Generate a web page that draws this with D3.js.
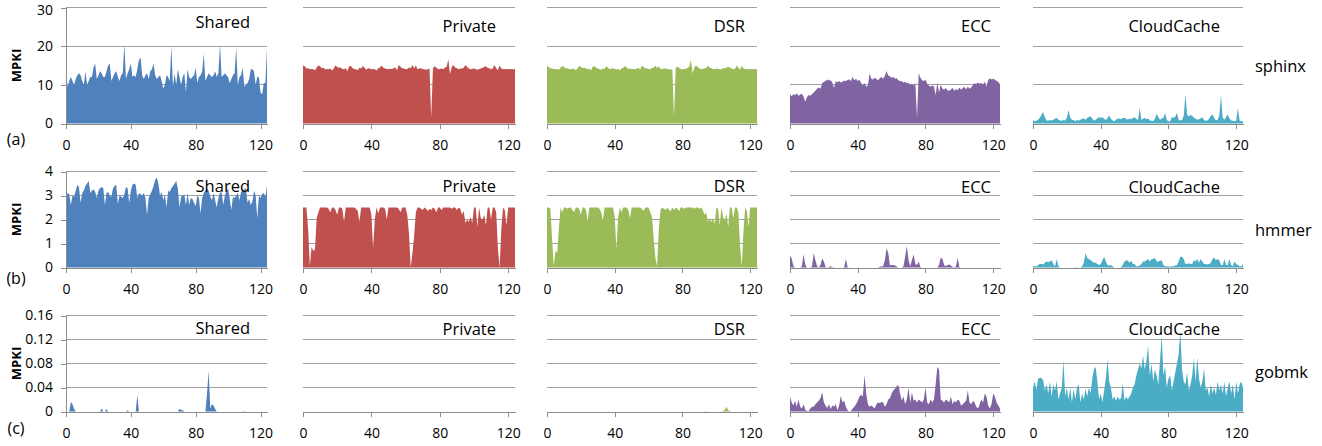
<!DOCTYPE html>
<html>
<head>
<meta charset="utf-8">
<script src="https://cdn.jsdelivr.net/npm/d3@7"></script>
<style>
  body { margin: 0; background: #fff; }
  svg { display: block; }
  text { font-family: "Open Sans", "Noto Sans", sans-serif; }
</style>
</head>
<body>
<svg id="chart" width="1322" height="446"></svg>
<script>
// Cache schemes (columns) and benchmarks (rows)
const schemes = ["Shared", "Private", "DSR", "ECC", "CloudCache"];
const benchmarks = ["sphinx", "hmmer", "gobmk"];
const rowTags = ["(a)", "(b)", "(c)"];
const xTicks = [0, 40, 80, 120];
const sphinxTicks = [0, 10, 20, 30];
const hmmerTicks = [0, 1, 2, 3, 4];
const gobmkTicks = [0, 0.04, 0.08, 0.12, 0.16];

// MPKI per interval (index = interval 0..124)
const sphinxShared = [
  14.5, 9.5, 11, 12, 11, 10, 11.5, 12.5, 13, 12.5,
  11, 10, 13.5, 10, 11, 12, 12, 14.5, 15.5, 11.5,
  12.5, 13.5, 13, 12, 12, 13.5, 15, 15.5, 11, 12,
  13, 13.5, 12, 11, 12.5, 13, 20.5, 11.5, 13, 14,
  15.5, 12, 12.5, 12, 14, 16.5, 17, 12.5, 11.5, 12.5,
  13, 11.5, 13.5, 14, 15.5, 12.5, 11.5, 12, 12.5, 11,
  9, 10, 12.5, 12, 11, 20, 9.5, 13, 10, 14,
  12, 10, 12, 13, 8, 14, 12, 11.5, 12, 12.5,
  14.5, 10.5, 12, 12.5, 13.5, 18, 11, 12, 13, 12.5,
  12, 12.5, 13.5, 12, 13, 20.5, 12, 12.5, 13, 12.5,
  12, 10.5, 11.5, 12.5, 13, 19.5, 10, 12, 12.5, 14.5,
  9.5, 10, 10.5, 11.5, 14, 14, 13.5, 10, 12, 12,
  8, 7.5, 10.5, 10.5, 19.5
];
const sphinxPrivate = [
  15, 14.8, 14.2, 14.3, 14.0, 14.1, 14.0, 13.8, 14.5, 15.0,
  14.8, 14.3, 14.4, 14.0, 14.1, 14.0, 14.2, 13.7, 14.2, 15.0,
  14.6, 14.4, 14.5, 14.1, 14.0, 14.3, 13.6, 14.8, 14.9, 14.3,
  14.1, 14.0, 13.8, 14.4, 14.2, 14.9, 14.4, 13.9, 14.3, 14.2,
  14.0, 14.1, 14.0, 13.7, 14.3, 14.5, 15.0, 14.4, 14.2, 14.1,
  14.0, 14.2, 14.0, 14.3, 14.5, 13.8, 15.1, 14.7, 14.3, 14.2,
  14.0, 14.1, 14.5, 14.3, 15.1, 14.2, 15.0, 14.0, 14.2, 14.3,
  14.1, 14.0, 13.9, 14.0, 14.2, 1.5, 14.3, 14.8, 14.5, 14.0,
  14.1, 14.2, 14.0, 14.5, 14.6, 16.6, 12.8, 14.6, 15.1, 14.5,
  14.3, 14.0, 14.2, 14.2, 14.4, 15.1, 14.6, 14.2, 14.0, 14.1,
  14.3, 14.0, 13.9, 14.1, 14.2, 14.4, 14.6, 14.8, 14.4, 14.3,
  14.0, 14.2, 15.1, 14.3, 13.8, 15.0, 14.2, 14.0, 14.1, 14.0,
  14.1, 14.0, 14.1, 14.0, 14.1
];
const sphinxDSR = [
  14.9, 14.6, 14.3, 14.2, 14.1, 14.0, 14.1, 13.9, 14.4, 14.9,
  14.7, 14.2, 14.3, 14.1, 14.0, 14.1, 14.2, 13.8, 14.3, 14.9,
  14.7, 14.3, 14.4, 14.2, 14.0, 14.2, 13.7, 14.7, 14.8, 14.4,
  14.2, 14.0, 13.9, 14.3, 14.1, 14.8, 14.5, 14.0, 14.2, 14.3,
  14.1, 14.0, 14.1, 13.8, 14.2, 14.4, 14.9, 14.5, 14.1, 14.2,
  14.1, 14.1, 14.0, 14.2, 14.4, 13.9, 15.0, 14.6, 14.2, 14.3,
  14.1, 14.0, 14.4, 14.4, 15.0, 14.3, 14.9, 14.1, 14.1, 14.2,
  14.2, 14.1, 14.0, 13.9, 14.1, 1.7, 14.4, 14.7, 14.4, 14.1,
  14.0, 14.1, 14.1, 14.4, 14.7, 16.5, 12.9, 14.5, 15.0, 14.6,
  14.2, 14.1, 14.1, 14.3, 14.3, 15.0, 14.5, 14.3, 14.1, 14.0,
  14.2, 14.1, 14.0, 14.0, 14.3, 14.3, 14.5, 14.7, 14.5, 14.2,
  14.1, 14.1, 15.0, 14.4, 13.9, 14.9, 14.3, 14.1, 14.0, 14.1,
  14.0, 14.1, 14.0, 14.1, 14.0
];
const sphinxECC = [
  7.6, 7.0, 7.6, 7.3, 7.8, 7.2, 7.5, 7.7, 7.0, 5.6,
  6.8, 7.4, 7.2, 7.6, 8.0, 8.5, 9.0, 9.3, 9.0, 10.4,
  10.8, 11.0, 11.4, 11.1, 11.2, 10.6, 9.2, 10.9, 10.7, 11.0,
  10.6, 10.8, 11.1, 10.9, 11.3, 11.4, 11.0, 12.1, 11.2, 11.6,
  11.0, 11.3, 10.5, 9.8, 10.4, 9.5, 9.8, 13.0, 11.6, 11.4,
  11.8, 11.5, 11.2, 11.7, 12.0, 11.6, 12.3, 13.6, 12.4, 12.2,
  11.8, 12.0, 11.6, 11.7, 11.2, 11.0, 10.9, 10.6, 10.8, 10.4,
  10.5, 10.0, 10.2, 9.8, 10.4, 1.5, 13.0, 11.8, 11.2, 11.0,
  11.3, 10.3, 9.8, 9.5, 9.8, 9.6, 7.4, 10.6, 8.0, 10.0,
  9.0, 8.8, 9.2, 8.6, 8.5, 8.8, 9.2, 8.5, 8.9, 8.6,
  9.3, 8.7, 9.2, 9.5, 8.8, 9.6, 9.0, 9.3, 10.0, 10.4,
  10.2, 10.6, 10.3, 10.5, 10.1, 10.8, 9.5, 11.2, 11.7, 11.4,
  11.6, 11.3, 11.0, 10.8, 10.0
];
const sphinxCloudCache = [
  1.0, 0.6, 0.7, 1.0, 1.5, 2.2, 3.0, 1.6, 0.8, 0.7,
  0.9, 0.8, 1.0, 1.2, 1.5, 1.0, 0.8, 0.7, 0.9, 0.8,
  1.5, 3.5, 1.5, 1.0, 0.9, 0.6, 1.0, 0.7, 1.0, 1.2,
  1.3, 1.0, 1.4, 1.7, 1.8, 1.3, 0.7, 1.0, 1.3, 1.7,
  1.4, 1.6, 1.2, 0.9, 1.4, 2.1, 1.2, 0.8, 0.6, 1.0,
  1.2, 1.3, 1.1, 1.4, 1.5, 1.2, 1.0, 1.3, 1.1, 1.4,
  1.6, 1.2, 0.9, 4.0, 1.0, 1.2, 1.4, 1.1, 1.3, 0.8,
  0.7, 0.6, 1.2, 2.5, 1.6, 1.0, 1.3, 1.5, 2.7, 0.9,
  0.6, 0.5, 1.7, 1.4, 1.8, 2.7, 1.0, 0.8, 0.9, 2.0,
  7.5, 2.3, 1.8, 2.2, 2.0, 1.5, 1.2, 1.0, 1.1, 1.3,
  1.6, 0.9, 0.7, 0.8, 1.2, 2.0, 2.3, 1.4, 0.8, 1.0,
  2.0, 7.4, 1.5, 1.0, 1.6, 2.3, 1.3, 0.8, 0.7, 0.6,
  0.8, 4.0, 0.8, 0.6, 0.6
];

const hmmerShared = [
  3.0, 3.1, 3.05, 2.6, 3.0, 2.95, 3.2, 3.45, 3.35, 2.7,
  3.1, 3.2, 3.4, 3.5, 3.6, 3.1, 3.2, 3.25, 3.15, 2.9,
  3.2, 3.3, 3.35, 3.3, 2.6, 3.1, 3.15, 3.0, 2.95, 3.3,
  3.4, 3.45, 2.65, 3.0, 2.95, 2.9, 3.05, 3.35, 3.3, 2.7,
  3.2, 3.45, 3.5, 3.45, 2.9, 3.1, 3.05, 3.0, 3.1, 2.9,
  2.2, 2.9, 3.05, 3.2, 3.4, 3.65, 3.75, 3.5, 3.0, 3.15,
  2.8, 3.05, 2.5, 3.2, 3.15, 3.3, 3.4, 3.5, 3.6, 3.3,
  2.5, 2.95, 3.0, 3.05, 2.6, 3.1, 2.6, 2.9, 2.85, 2.7,
  2.55, 3.0, 2.9, 2.25, 2.9, 3.1, 3.2, 3.3, 3.2, 2.95,
  2.8, 3.1, 2.8, 2.5, 2.9, 3.1, 3.15, 2.6, 3.0, 3.2,
  3.3, 2.85, 2.4, 2.95, 2.9, 3.0, 3.1, 2.8, 3.15, 3.2,
  3.25, 3.3, 2.7, 2.85, 2.6, 2.75, 3.2, 3.0, 2.05, 3.0,
  2.9, 3.05, 3.1, 2.95, 3.4
];
const hmmerPrivate = [
  2.5, 2.5, 2.5, 1.6, 0.05, 0.85, 0.7, 0.75, 2.05, 2.3,
  2.5, 2.5, 2.5, 2.5, 2.5, 2.45, 2.3, 2.5, 2.5, 2.4,
  2.2, 2.5, 2.5, 2.45, 1.9, 2.5, 2.5, 2.5, 2.5, 2.5,
  2.5, 2.45, 2.35, 1.9, 2.5, 2.5, 2.5, 2.5, 2.5, 2.5,
  2.2, 0.8, 2.0, 2.5, 2.25, 2.5, 2.5, 2.5, 2.45, 2.0,
  2.5, 2.5, 2.5, 2.5, 2.5, 2.5, 2.45, 2.3, 2.5, 2.5,
  2.5, 2.2, 1.4, 0.0, 0.6, 1.3, 2.3, 2.5, 2.5, 2.45,
  2.4, 2.5, 2.45, 2.35, 2.45, 2.4, 2.5, 2.45, 2.3, 2.5,
  2.5, 2.4, 2.5, 2.5, 2.5, 2.5, 2.5, 2.45, 2.5, 2.5,
  2.4, 2.5, 2.45, 2.2, 2.35, 1.85, 2.0, 1.9, 2.1, 1.85,
  2.5, 2.5, 1.7, 2.5, 2.05, 2.0, 2.2, 1.75, 2.5, 2.5,
  2.0, 2.5, 2.5, 2.3, 0.8, 0.0, 1.6, 2.5, 2.4, 1.75,
  2.5, 2.5, 2.5, 2.5, 2.5
];
const hmmerDSR = [
  2.5, 2.5, 2.45, 1.2, 0.05, 0.7, 0.6, 1.6, 2.5, 2.3,
  2.5, 2.5, 2.45, 2.5, 2.5, 2.4, 2.3, 2.5, 2.5, 2.45,
  2.2, 2.5, 2.5, 2.4, 1.9, 2.5, 2.5, 2.5, 2.5, 2.5,
  2.5, 2.45, 2.3, 1.95, 2.5, 2.5, 2.5, 2.5, 2.5, 2.5,
  2.1, 0.75, 2.1, 2.5, 2.3, 2.5, 2.5, 2.5, 2.4, 2.05,
  2.5, 2.5, 2.5, 2.5, 2.5, 2.5, 2.45, 2.35, 2.5, 2.5,
  2.5, 2.3, 2.1, 1.2, 0.4, 0.05, 1.6, 2.4, 2.5, 2.45,
  2.4, 2.5, 2.4, 2.35, 2.5, 2.4, 2.5, 2.45, 2.35, 2.5,
  2.5, 2.45, 2.5, 2.5, 2.5, 2.5, 2.5, 2.45, 2.5, 2.5,
  2.45, 2.5, 2.4, 2.2, 2.3, 1.9, 2.05, 1.9, 2.05, 1.8,
  2.5, 2.45, 1.75, 2.5, 2.1, 1.95, 2.25, 1.7, 2.5, 2.5,
  2.05, 2.5, 2.5, 2.3, 0.9, 0.05, 1.5, 2.5, 2.35, 1.7,
  2.5, 2.5, 2.5, 2.5, 2.5
];
const hmmerECC = [
  0.5, 0.38, 0.06, 0, 0, 0, 0, 0.05, 0.55, 0.12,
  0, 0, 0, 0.05, 0.6, 0.3, 0.05, 0, 0.1, 0.38,
  0.25, 0.02, 0, 0.02, 0.05, 0.02, 0, 0, 0, 0,
  0, 0, 0.02, 0.35, 0.02, 0, 0, 0, 0, 0,
  0, 0, 0, 0, 0, 0, 0, 0, 0, 0,
  0, 0, 0, 0.03, 0.05, 0.05, 0.3, 0.8, 0.6, 0.08,
  0.1, 0.1, 0.08, 0.04, 0, 0, 0, 0.05, 0.45, 0.9,
  0.3, 0.05, 0.3, 0.55, 0.15, 0.1, 0.25, 0.02, 0, 0,
  0, 0, 0, 0, 0, 0, 0, 0, 0.1, 0.42,
  0.35, 0.1, 0.05, 0.1, 0.12, 0.08, 0.03, 0, 0.05, 0.4,
  0.02, 0, 0, 0, 0, 0, 0, 0, 0, 0,
  0, 0, 0, 0, 0, 0, 0, 0, 0, 0,
  0, 0, 0, 0, 0
];
const hmmerCloudCache = [
  0.05, 0.05, 0.05, 0.1, 0.15, 0.15, 0.12, 0.2, 0.25, 0.22,
  0.25, 0.3, 0.15, 0.05, 0.35, 0.05, 0, 0, 0, 0,
  0, 0, 0, 0, 0, 0.02, 0, 0, 0, 0.05,
  0.2, 0.6, 0.4, 0.35, 0.3, 0.25, 0.2, 0.2, 0.15, 0.1,
  0.15, 0.3, 0.45, 0.25, 0.1, 0.08, 0.1, 0.05, 0, 0,
  0, 0, 0.02, 0.1, 0.25, 0.3, 0.28, 0.2, 0.28, 0.15,
  0.15, 0.05, 0.05, 0.08, 0.15, 0.25, 0.25, 0.3, 0.35, 0.25,
  0.35, 0.35, 0.4, 0.25, 0.25, 0.28, 0.3, 0.1, 0.05, 0.05,
  0.05, 0.03, 0.05, 0.05, 0.08, 0.1, 0.25, 0.45, 0.45, 0.35,
  0.15, 0.15, 0.18, 0.15, 0.15, 0.3, 0.25, 0.35, 0.2, 0.35,
  0.25, 0.15, 0.15, 0.12, 0.15, 0.2, 0.35, 0.42, 0.3, 0.35,
  0.3, 0.1, 0.1, 0.35, 0.1, 0.1, 0.35, 0.1, 0.05, 0.25,
  0.15, 0.1, 0.05, 0.05, 0.15
];

const gobmkShared = [
  0, 0, 0, 0.016, 0.012, 0.004, 0, 0, 0, 0,
  0, 0, 0, 0, 0, 0, 0, 0, 0, 0,
  0, 0, 0.005, 0, 0, 0.004, 0, 0, 0, 0,
  0, 0, 0, 0, 0, 0, 0, 0, 0.002, 0,
  0, 0, 0, 0, 0.028, 0, 0, 0, 0, 0,
  0, 0, 0, 0, 0, 0, 0, 0, 0, 0,
  0, 0, 0, 0, 0, 0, 0, 0, 0, 0,
  0.004, 0.003, 0.002, 0, 0, 0, 0, 0, 0, 0,
  0, 0, 0, 0, 0, 0, 0, 0.03, 0.068, 0.005,
  0.012, 0.01, 0.004, 0, 0, 0, 0, 0, 0, 0,
  0, 0, 0, 0, 0, 0, 0, 0, 0, 0,
  0.001, 0, 0, 0, 0, 0, 0, 0, 0, 0,
  0, 0, 0, 0, 0
];
const gobmkPrivate = [
  0, 0, 0, 0, 0, 0, 0, 0, 0, 0,
  0, 0, 0, 0, 0, 0, 0, 0, 0, 0,
  0, 0, 0, 0, 0, 0, 0, 0, 0, 0,
  0, 0, 0, 0, 0, 0, 0, 0, 0, 0,
  0, 0, 0, 0, 0, 0, 0, 0, 0, 0,
  0, 0, 0, 0, 0, 0, 0, 0, 0, 0,
  0, 0, 0, 0, 0, 0, 0, 0, 0, 0,
  0, 0, 0, 0, 0, 0, 0, 0, 0, 0,
  0, 0, 0, 0, 0, 0, 0, 0, 0, 0,
  0, 0, 0, 0, 0, 0, 0, 0, 0, 0,
  0, 0, 0, 0, 0, 0, 0, 0, 0, 0,
  0, 0, 0, 0, 0, 0, 0, 0, 0, 0,
  0, 0, 0, 0, 0
];
const gobmkDSR = [
  0, 0, 0, 0, 0, 0, 0, 0, 0, 0,
  0, 0, 0, 0, 0, 0, 0, 0, 0, 0,
  0, 0, 0, 0, 0, 0, 0, 0, 0, 0,
  0, 0, 0, 0, 0, 0, 0, 0, 0, 0,
  0, 0, 0, 0, 0, 0, 0, 0, 0, 0,
  0, 0, 0, 0, 0, 0, 0, 0, 0, 0,
  0, 0, 0, 0, 0, 0, 0, 0, 0, 0,
  0, 0, 0, 0, 0, 0, 0, 0, 0, 0,
  0, 0, 0, 0, 0, 0, 0, 0, 0, 0,
  0, 0, 0, 0, 0.001, 0, 0, 0, 0, 0,
  0, 0, 0, 0, 0.001, 0.003, 0.008, 0.002, 0.001, 0,
  0, 0, 0, 0, 0, 0, 0, 0, 0, 0,
  0, 0, 0, 0, 0
];
const gobmkECC = [
  0.025, 0.015, 0.01, 0.018, 0.008, 0.02, 0.008, 0.005, 0.012, 0.003,
  0.001, 0.001, 0.005, 0.008, 0.008, 0.012, 0.015, 0.018, 0.022, 0.032,
  0.015, 0.01, 0.006, 0.012, 0.004, 0.01, 0.008, 0.012, 0.002, 0.01,
  0.026, 0.015, 0.018, 0.008, 0.002, 0.0, 0.001, 0.005, 0.008, 0.012,
  0.018, 0.025, 0.028, 0.025, 0.06, 0.03, 0.012, 0.008, 0.01, 0.008,
  0.005, 0.012, 0.015, 0.014, 0.016, 0.015, 0.008, 0.012, 0.02, 0.022,
  0.03, 0.035, 0.038, 0.042, 0.044, 0.03, 0.018, 0.025, 0.012, 0.02,
  0.04, 0.015, 0.032, 0.018, 0.02, 0.015, 0.02, 0.018, 0.015, 0.02,
  0.04, 0.015, 0.012, 0.02, 0.015, 0.02, 0.045, 0.074, 0.07, 0.02,
  0.018, 0.015, 0.02, 0.018, 0.015, 0.025, 0.012, 0.018, 0.015, 0.02,
  0.018, 0.01, 0.012, 0.015, 0.018, 0.035, 0.015, 0.012, 0.018, 0.015,
  0.008, 0.005, 0.012, 0.02, 0.015, 0.03, 0.025, 0.01, 0.005, 0.012,
  0.03, 0.025, 0.015, 0.01, 0.005
];
const gobmkCloudCache = [
  0.04, 0.05, 0.035, 0.055, 0.056, 0.056, 0.052, 0.035, 0.045, 0.03,
  0.05, 0.025, 0.045, 0.035, 0.05, 0.02, 0.03, 0.04, 0.085, 0.025,
  0.04, 0.02, 0.04, 0.015, 0.038, 0.02, 0.04, 0.045, 0.015, 0.03,
  0.02, 0.038, 0.025, 0.04, 0.03, 0.055, 0.07, 0.074, 0.05, 0.02,
  0.03, 0.015, 0.035, 0.055, 0.087, 0.05, 0.04, 0.02, 0.025, 0.018,
  0.025, 0.02, 0.022, 0.047, 0.018, 0.025, 0.02, 0.025, 0.03, 0.04,
  0.045, 0.06, 0.07, 0.08, 0.072, 0.093, 0.07, 0.085, 0.109, 0.06,
  0.08, 0.05, 0.07, 0.06, 0.045, 0.085, 0.127, 0.06, 0.075, 0.04,
  0.055, 0.06, 0.035, 0.05, 0.065, 0.08, 0.095, 0.134, 0.07, 0.05,
  0.045, 0.065, 0.035, 0.045, 0.06, 0.089, 0.05, 0.09, 0.055, 0.04,
  0.05, 0.072, 0.035, 0.04, 0.025, 0.045, 0.03, 0.04, 0.028, 0.05,
  0.035, 0.045, 0.03, 0.05, 0.025, 0.04, 0.05, 0.03, 0.045, 0.02,
  0.05, 0.03, 0.045, 0.05, 0.04
];

const rows = [
  { series: [sphinxShared, sphinxPrivate, sphinxDSR, sphinxECC, sphinxCloudCache], ticks: sphinxTicks },
  { series: [hmmerShared, hmmerPrivate, hmmerDSR, hmmerECC, hmmerCloudCache], ticks: hmmerTicks },
  { series: [gobmkShared, gobmkPrivate, gobmkDSR, gobmkECC, gobmkCloudCache], ticks: gobmkTicks }
];

// ---- layout & style ----
const schemeColors = ["#4F81BD", "#C0504D", "#9BBB59", "#8064A2", "#4BACC6"];
const gridColor = "#a0a0a0";
const axisColor = "#8c8c8c";
const colRange = [[66, 267], [303, 515], [547, 757], [790, 1000], [1033, 1243]];
const rowRange = [[7.5, 123.5], [171.5, 267.5], [315.5, 411.5]];
const titleRight = [250, 496, 745, 991, 1220];
const titleY = [[21, 25.5, 25, 25, 25], [185, 185, 185, 186, 186], [327, 328, 328, 328, 328]];
const benchY = [65, 229, 371];
const tagY = [139, 278, 428];

const svg = d3.select("#chart");

rows.forEach((row, r) => {
  const yMax = d3.max(row.ticks);
  const tickFmt = r === 2 ? (d => d === 0 ? "0" : d3.format(".2f")(d)) : d3.format("d");

  row.series.forEach((values, c) => {
    const n = values.length - 1;
    const x = d3.scaleLinear().domain([0, n]).range(colRange[c]);
    const y = d3.scaleLinear().domain([0, yMax]).range([rowRange[r][1], rowRange[r][0]]);
    const g = svg.append("g");

    // horizontal gridlines
    g.selectAll("line.grid")
      .data(row.ticks.filter(t => t > 0))
      .join("line")
      .attr("class", "grid")
      .attr("x1", x(0)).attr("x2", x(n))
      .attr("y1", d => y(d)).attr("y2", d => y(d))
      .attr("stroke", gridColor).attr("stroke-width", 1)
      .attr("shape-rendering", "crispEdges");

    // MPKI area
    g.append("path")
      .datum(values)
      .attr("fill", schemeColors[c])
      .attr("d", d3.area().x((d, i) => x(i)).y0(y(0)).y1(d => y(d)));

    // x axis
    const ax = g.append("g")
      .attr("transform", `translate(0,${y(0)})`)
      .call(d3.axisBottom(x).tickValues(xTicks).tickSize(5).tickSizeOuter(0).tickPadding(12));
    ax.select(".domain").attr("stroke", axisColor).attr("shape-rendering", "crispEdges");
    ax.selectAll(".tick line").attr("stroke", axisColor).attr("shape-rendering", "crispEdges");
    ax.selectAll(".tick text").attr("fill", "#000").style("font-size", "14px")
      .style("font-family", '"Open Sans", sans-serif');

    // y axis on the first column only
    if (c === 0) {
      const ay = g.append("g")
        .attr("transform", `translate(${x(0)},0)`)
        .call(d3.axisLeft(y).tickValues(row.ticks).tickSize(5).tickSizeOuter(0).tickPadding(8).tickFormat(tickFmt));
      ay.select(".domain").attr("stroke", axisColor).attr("shape-rendering", "crispEdges");
      ay.selectAll(".tick line").attr("stroke", axisColor).attr("shape-rendering", "crispEdges");
      ay.selectAll(".tick text").attr("fill", "#000").style("font-size", "14px")
        .style("font-family", '"Open Sans", sans-serif');
      // keep the topmost label of the first row inside the canvas
      if (r === 0) {
        ay.selectAll(".tick text").filter(d => d === yMax).attr("dy", "0.5em");
      }
    }

    // scheme title
    g.append("text")
      .attr("x", titleRight[c])
      .attr("y", titleY[r][c])
      .attr("text-anchor", "end")
      .attr("dominant-baseline", "central")
      .style("font-size", "16.5px")
      .attr("fill", "#000")
      .text(schemes[c]);
  });

  // axis title
  const yMid = (rowRange[r][0] + rowRange[r][1]) / 2;
  svg.append("text")
    .attr("transform", `translate(16,${yMid}) rotate(-90)`)
    .attr("text-anchor", "middle")
    .attr("dominant-baseline", "central")
    .style("font-size", "13px")
    .style("font-weight", "700")
    .text("MPKI");

  // panel tag
  svg.append("text")
    .attr("x", 16).attr("y", tagY[r])
    .attr("text-anchor", "middle")
    .attr("dominant-baseline", "central")
    .style("font-size", "16px")
    .text(rowTags[r]);

  // benchmark name
  svg.append("text")
    .attr("x", 1255).attr("y", benchY[r])
    .attr("dominant-baseline", "central")
    .style("font-size", "16.5px")
    .text(benchmarks[r]);
});
</script>
</body>
</html>
